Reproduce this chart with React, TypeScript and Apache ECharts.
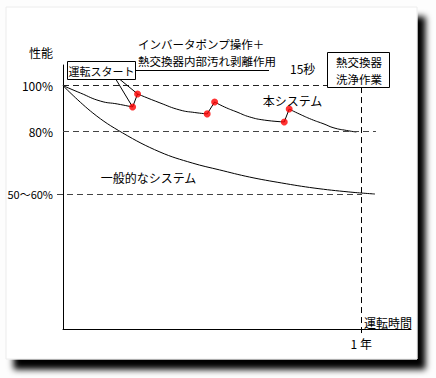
import React, { useEffect, useRef } from "react";
import * as echarts from "echarts";

// x: months of operation, y: performance (%)
const systemSeg1 = [[0, 100], [0.7, 96.8], [1.5, 93.3], [2.2, 92.0], [2.8, 90.7]];
const systemSeg2 = [[3.0, 96.4], [3.9, 92.5], [4.7, 89.4], [5.3, 88.3], [5.8, 87.7]];
const systemSeg3 = [[6.1, 92.9], [6.5, 90.7], [7.0, 88.5], [7.5, 86.4], [8.1, 85.0], [8.9, 84.2]];
const systemSeg4 = [[9.1, 89.8], [9.5, 87.7], [10.0, 85.3], [10.5, 83.3], [10.9, 81.6], [11.4, 80.5], [11.8, 79.8]];
const generalSystem = [[0, 100], [1.2, 88.1], [2.4, 79.4], [3.9, 71.1], [5.2, 66.3], [6.3, 63.3], [7.5, 60.2], [8.8, 57.6], [10.1, 55.4], [11.5, 53.7], [12.55, 52.8]];
const levelValues = [100, 80, 52.8];
const levelLabels = ["100%", "80%", "50〜60%"];
const oneYear = 12;
const yearLabel = "1 年";

const FONT = '"Noto Sans CJK JP", "Noto Sans CJK SC", sans-serif';

export default function App() {
  const ref = useRef<HTMLDivElement>(null);
  useEffect(() => {
    const chart = echarts.init(ref.current!, null, { renderer: "svg" });
    const segs = [systemSeg1, systemSeg2, systemSeg3, systemSeg4];
    const dots: number[][] = [];
    const jumps: number[][][] = [];
    for (let i = 0; i < segs.length - 1; i++) {
      const a = segs[i][segs[i].length - 1];
      const b = segs[i + 1][0];
      dots.push(a, b);
      jumps.push([a, b]);
    }
    const lineBase = {
      type: "line",
      showSymbol: false,
      symbol: "none",
      silent: true,
      clip: false,
      lineStyle: { color: "#000", width: 1 },
    };
    const txt = (text: string, x: number, y: number, size = 12, align = "left") => ({
      type: "text",
      silent: true,
      style: {
        text,
        x,
        y,
        font: `${size}px ${FONT}`,
        fill: "#000",
        align,
        textAlign: align,
        verticalAlign: "middle",
        textVerticalAlign: "middle",
      },
      z: 10,
    });
    const YMIN = -6;

    chart.setOption({
      animation: false,
      backgroundColor: "#fdfdfd",
      grid: { left: 63, top: 65, width: 348, height: 264, containLabel: false },
      xAxis: {
        type: "value",
        min: 0,
        max: 14,
        interval: 12,
        name: "運転時間",
        nameLocation: "end",
        nameGap: 1,
        nameTextStyle: { align: "right", verticalAlign: "bottom", color: "#000", fontSize: 12, fontFamily: FONT, padding: [0, 0, 1, 0] },
        axisLine: { show: true, onZero: false, lineStyle: { color: "#000", width: 1 } },
        axisTick: { show: false },
        splitLine: { show: false },
        axisLabel: {
          show: true,
          margin: 8,
          color: "#000",
          fontSize: 12,
          fontFamily: FONT,
          formatter: (v: number) => (v === oneYear ? yearLabel : ""),
        },
      },
      yAxis: {
        type: "value",
        min: YMIN,
        max: 109,
        name: "性能",
        nameLocation: "end",
        nameGap: 7,
        nameTextStyle: { align: "right", verticalAlign: "bottom", color: "#000", fontSize: 12, fontFamily: FONT, padding: [0, 10, 0, 0] },
        axisLine: { show: true, onZero: false, lineStyle: { color: "#000", width: 1 } },
        axisTick: { show: false },
        axisLabel: { show: false },
        splitLine: { show: false },
      },
      graphic: [
        {
          type: "rect",
          silent: true,
          z: -10,
          shape: { x: 6, y: 7, width: 411, height: 352 },
          style: {
            fill: "#fff",
            stroke: "#ececec",
            lineWidth: 1,
            shadowBlur: 6,
            shadowColor: "rgba(0,0,0,1)",
            shadowOffsetX: 8,
            shadowOffsetY: 10,
          },
        },
        txt("インバータポンプ操作＋", 138, 43.5, 11.5),
        txt("熱交換器内部汚れ剥離作用", 138, 60.5, 11.5),
        {
          type: "line",
          silent: true,
          z: 10,
          shape: { x1: 135, y1: 70.5, x2: 269, y2: 70.5 },
          style: { stroke: "#000", lineWidth: 1 },
        },
        txt("15秒", 290, 68),
        {
          type: "rect",
          silent: true,
          z: 10,
          shape: { x: 67.5, y: 61.5, width: 68, height: 18 },
          style: { fill: "#fff", stroke: "#000", lineWidth: 1 },
        },
        txt("運転スタート", 101.5, 70.5, 11, "center"),
        {
          type: "rect",
          silent: true,
          z: 10,
          shape: { x: 327.5, y: 52.5, width: 62, height: 35 },
          style: { fill: "#fff", stroke: "#000", lineWidth: 1 },
        },
        txt("熱交換器", 359, 61.5, 11.5, "center"),
        txt("洗浄作業", 359, 78.5, 11.5, "center"),
        txt("本システム", 292.5, 100, 12, "center"),
        txt("一般的なシステム", 148.5, 177, 12, "center"),
      ],
      series: [
        {
          ...lineBase,
          name: "一般的なシステム",
          smooth: 0.4,
          data: generalSystem,
        },
        ...segs.map((s, i) => ({ ...lineBase, name: "本システム" + (i + 1), smooth: 0.5, data: s })),
        ...jumps.map((j, i) => ({ ...lineBase, name: "jump" + i, data: j })),
        {
          type: "scatter",
          name: "操作",
          silent: true,
          symbolSize: 7,
          z: 5,
          itemStyle: { color: "#ff0000" },
          data: dots,
        },
      ],
    });

    // reference lines, positioned through the axes' scales
    const px = (p: number[]) => chart.convertToPixel({ gridIndex: 0 }, p) as number[];
    const levelColors = ["#222", "#444", "#444"];
    const levelEnds = [10.62, 12.59, 12.03];
    const levelOverhang = [0, 0, 6];
    const levelDist = [10, 10, 4];
    const levelSize = [12, 12, 11];
    const markData: any[] = levelValues.map((v, i) => {
      const s = px([0, v]);
      return [
        {
          x: s[0] - levelOverhang[i],
          y: s[1],
          lineStyle: { color: levelColors[i], type: [6, 4], width: 1 },
          label: {
            show: true,
            position: "start",
            distance: levelDist[i],
            formatter: levelLabels[i],
            color: "#000",
            fontSize: levelSize[i],
            fontFamily: FONT,
          },
        },
        { coord: [levelEnds[i], v] },
      ];
    });
    const yb = px([oneYear, YMIN]);
    markData.push([
      { coord: [oneYear, 99.4], lineStyle: { color: "#000", type: [6, 4], width: 1 }, label: { show: false } },
      { x: yb[0], y: yb[1] + 7 },
    ]);
    // pointers from the start box to the first jump
    markData.push([
      { x: 116, y: 79.5, lineStyle: { color: "#000", type: "solid", width: 1 }, label: { show: false } },
      { coord: dots[0] },
    ]);
    markData.push([
      { x: 120, y: 79.5, lineStyle: { color: "#000", type: "solid", width: 1 }, label: { show: false } },
      { coord: dots[1] },
    ]);
    chart.setOption({
      series: [
        {
          name: "一般的なシステム",
          markLine: {
            silent: true,
            symbol: ["none", "none"],
            label: { show: false },
            data: markData,
          },
        },
      ],
    });
    return () => chart.dispose();
  }, []);
  return (
    <div
      ref={ref}
      style={{ position: "fixed", left: 0, top: 0, width: 436, height: 378 }}
    />
  );
}
